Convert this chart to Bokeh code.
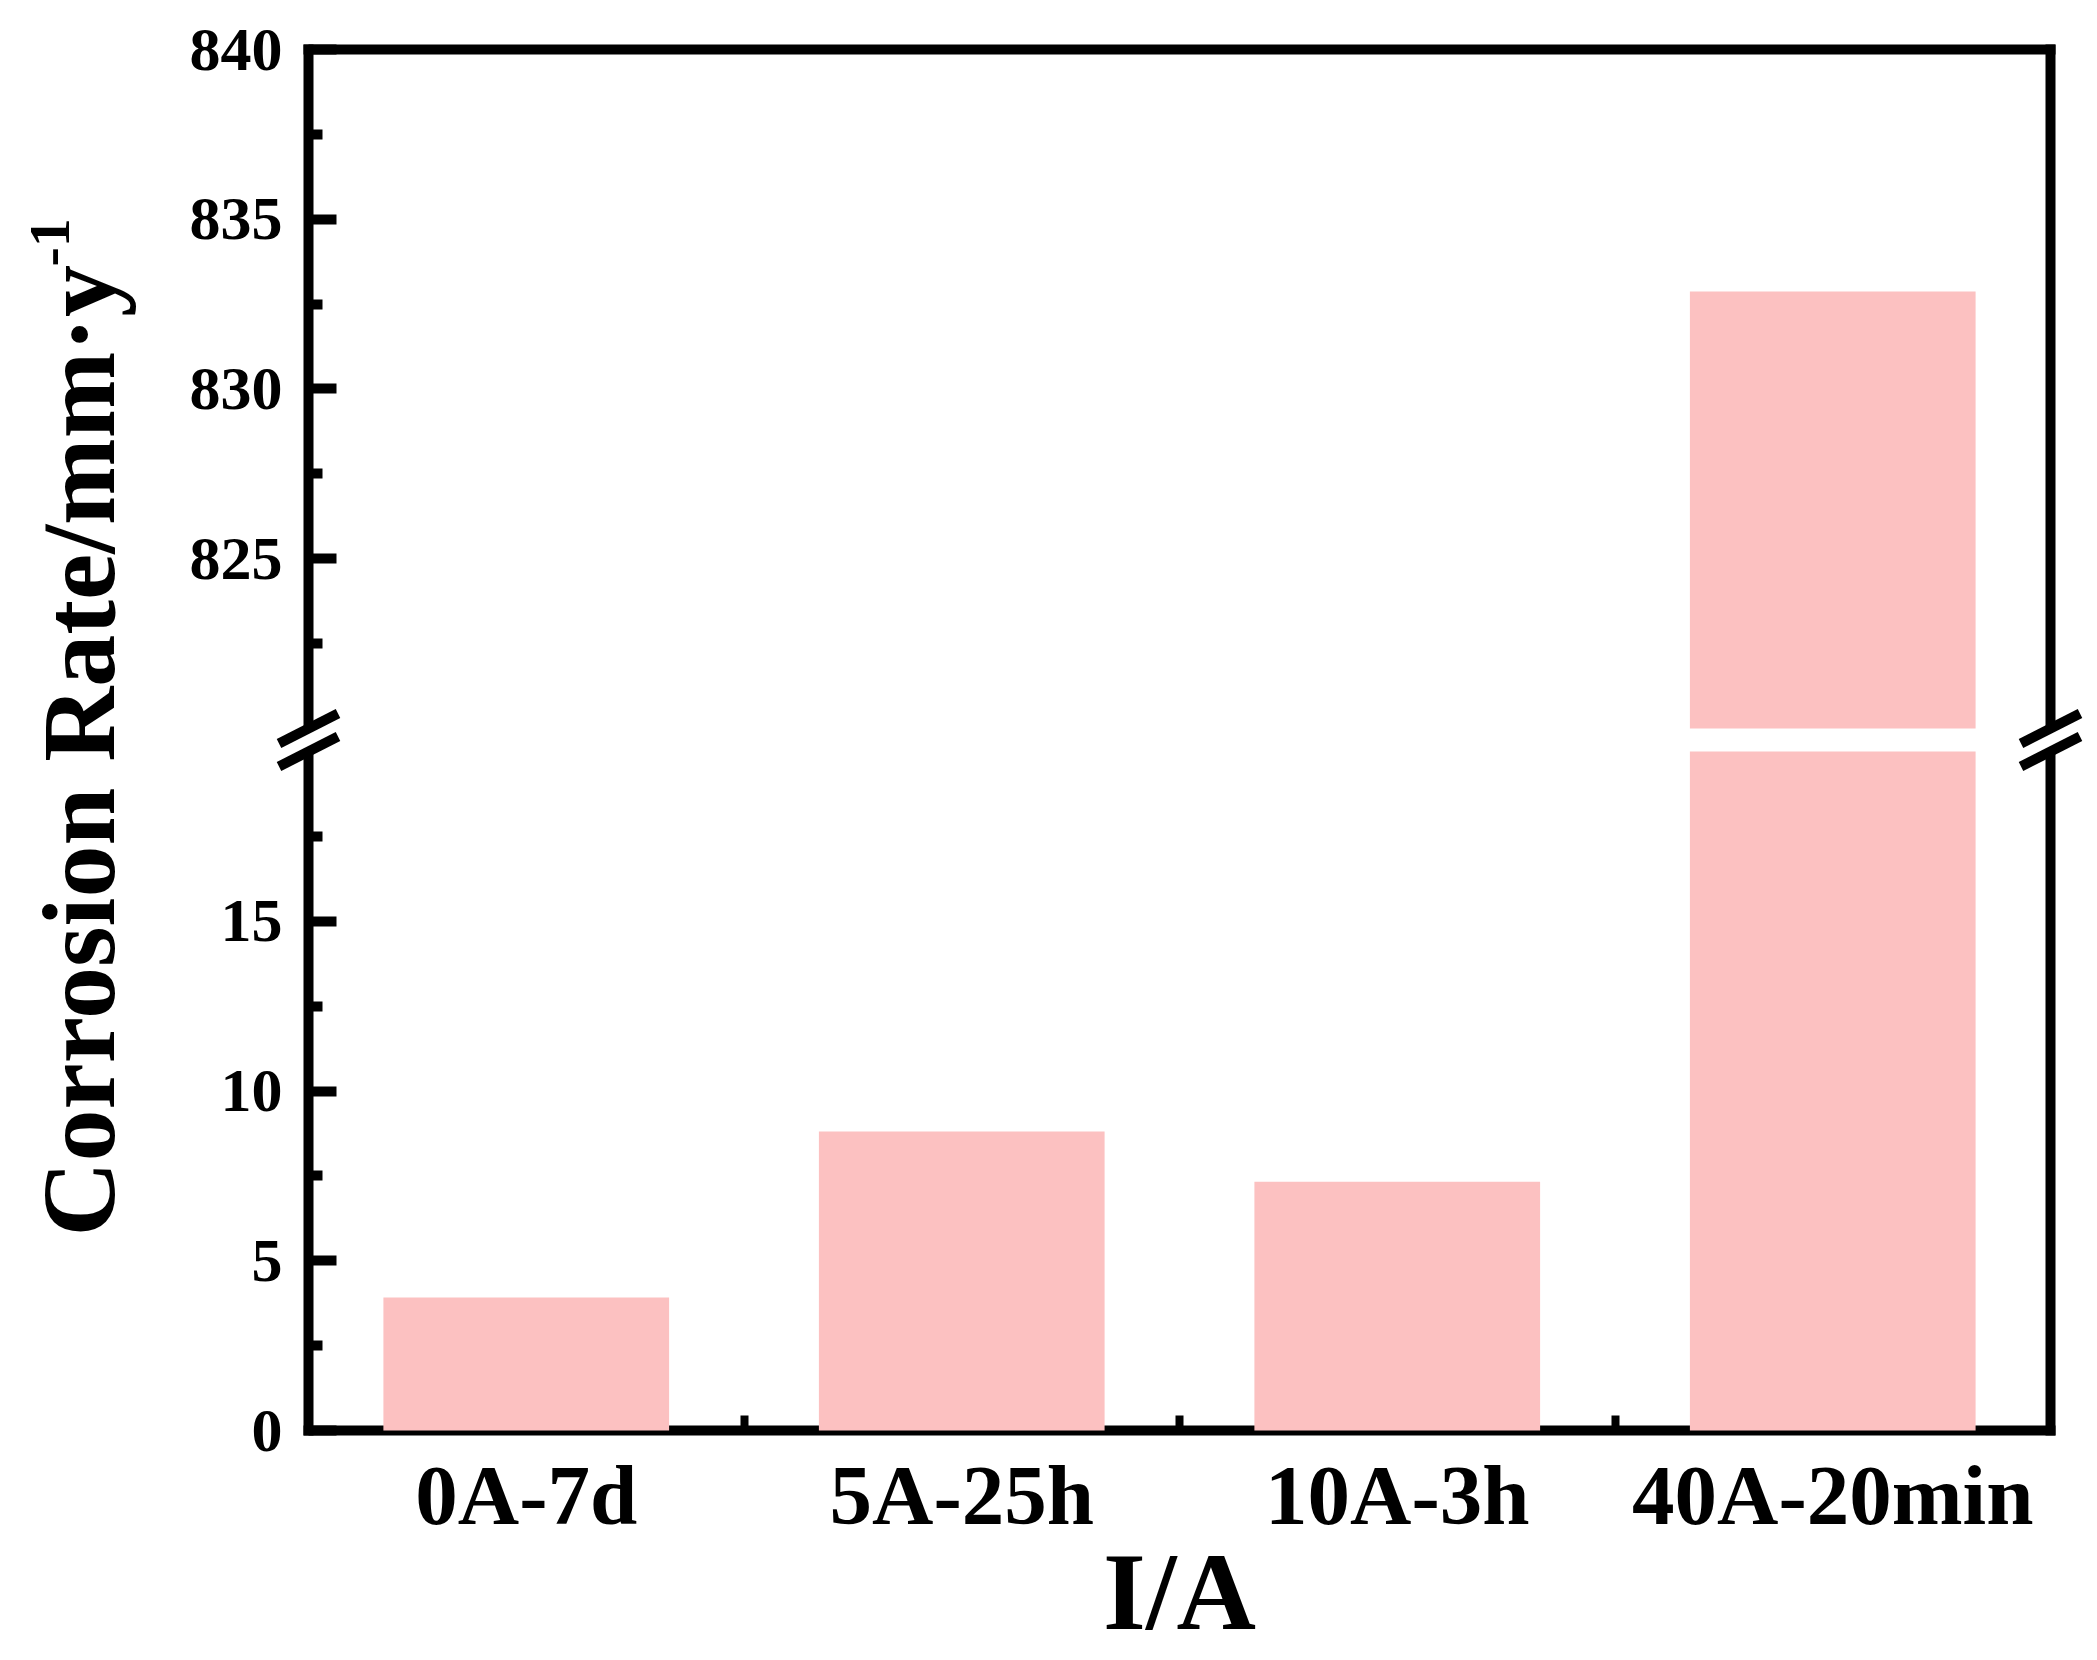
import math
from bokeh.plotting import figure
from bokeh.models import Range1d, LinearAxis, FixedTicker, Label, Arrow, PolyAnnotation
from bokeh.embed import file_html
from bokeh.resources import INLINE

# ---- data ----
categories = ["0A-7d", "5A-25h", "10A-3h", "40A-20min"]
rates = [3.92, 8.81, 7.33, 832.87]
lower_ticks = [0, 5, 10, 15]
lower_minor = [2.5, 7.5, 12.5, 17.5]
upper_ticks = [825, 830, 835, 840]
upper_minor = [822.5, 827.5, 832.5, 837.5]
LOW_MAX = 20.0   # top of lower segment
UP_MIN = 820.0   # bottom of upper segment
UP_MAX = 840.0
GAP = 0.68       # visual gap between the segments (in axis units)

x_title = "I/A"
y_title = "Corrosion Rate/mm\u00b7y"
y_title_sup = "-1"

FONT = "Liberation Serif"
BAR_COLOR = "#FCC1C1"


def ty(v):
    """Map a data value onto the broken y scale."""
    if v <= LOW_MAX:
        return v
    return v - UP_MIN + LOW_MAX + GAP


Y_TOP = ty(UP_MAX)
NCAT = len(categories)

# ---- layout (canvas pixels) ----
W, H = 2088, 1652
BL, BR, BT, BB = 308, 2050, 49, 1430     # the drawn plot box
XPX = (BR - BL) / NCAT
YPX = (BB - BT) / Y_TOP


def X(px):
    return (px - BL) / XPX


def Y(py):
    return (BB - py) / YPX


p = figure(width=W, height=H,
           x_range=Range1d(X(0), X(W)), y_range=Range1d(Y(H), Y(0)),
           output_backend="svg", toolbar_location=None,
           x_axis_type=None, y_axis_type=None, min_border=0)
p.outline_line_color = None
p.background_fill_color = "white"
p.border_fill_color = "white"

# ---- bars ----
xs = [i + 0.5 for i in range(NCAT)]
low_top = [min(v, LOW_MAX) for v in rates]
p.vbar(x=xs, width=0.656, bottom=0, top=low_top, fill_color=BAR_COLOR,
       line_color=None, level="overlay")
up_x = [x for x, v in zip(xs, rates) if v > UP_MIN]
up_top = [ty(v) for v in rates if v > UP_MIN]
up_bot = [ty(UP_MIN) for v in rates if v > UP_MIN]
p.vbar(x=up_x, width=0.656, bottom=up_bot, top=up_top, fill_color=BAR_COLOR,
       line_color=None, level="overlay")

# ---- axes ----
LW = 10
xaxis = LinearAxis(ticker=FixedTicker(ticks=xs, minor_ticks=[1, 2, 3]),
                   fixed_location=0, bounds=(0, NCAT))
xaxis.major_label_overrides = {x: c for x, c in zip(xs, categories)}
xaxis.axis_line_width = LW
xaxis.axis_line_cap = "square"
xaxis.major_tick_line_color = None
xaxis.minor_tick_line_width = 8
xaxis.minor_tick_in = 15
xaxis.minor_tick_out = 0
xaxis.major_label_text_font = FONT
xaxis.major_label_text_font_style = "bold"
xaxis.major_label_text_font_size = "85px"
xaxis.major_label_text_color = "black"
xaxis.major_label_standoff = 11
p.add_layout(xaxis, "below")

yt_major = [ty(v) for v in lower_ticks] + [ty(v) for v in upper_ticks]
yt_minor = [ty(v) for v in lower_minor] + [ty(v) for v in upper_minor]
yaxis = LinearAxis(ticker=FixedTicker(ticks=yt_major, minor_ticks=yt_minor),
                   fixed_location=0, bounds=(0, Y_TOP))
yaxis.major_label_overrides = {ty(v): str(v) for v in lower_ticks + upper_ticks}
yaxis.axis_line_width = LW
yaxis.axis_line_cap = "square"
yaxis.major_tick_line_width = LW
yaxis.major_tick_in = 28
yaxis.major_tick_out = 0
yaxis.minor_tick_line_width = LW
yaxis.minor_tick_in = 14
yaxis.minor_tick_out = 0
yaxis.major_label_text_font = FONT
yaxis.major_label_text_font_style = "bold"
yaxis.major_label_text_font_size = "62px"
yaxis.major_label_text_color = "black"
yaxis.major_label_standoff = 26
p.add_layout(yaxis, "left")

for side, loc, bnd in (("above", Y_TOP, (0, NCAT)), ("right", NCAT, (0, Y_TOP))):
    ax = LinearAxis(ticker=FixedTicker(ticks=[], minor_ticks=[]),
                    fixed_location=loc, bounds=bnd)
    ax.axis_line_width = LW
    ax.axis_line_cap = "square"
    ax.major_tick_line_color = None
    ax.minor_tick_line_color = None
    ax.major_label_text_font_size = "0px"
    p.add_layout(ax, side)

# ---- break marks ----
hx = 29.5 / XPX
hy = 15.0 / YPX
slope = hy / hx
wx = 12.0 / XPX
for cx in (0, NCAT):
    y_lo = ty(LOW_MAX)
    y_hi = ty(UP_MIN)
    p.add_layout(PolyAnnotation(
        xs=[cx - wx, cx + wx, cx + wx, cx - wx],
        ys=[y_lo - wx * slope, y_lo + wx * slope, y_hi + wx * slope, y_hi - wx * slope],
        fill_color="white", fill_alpha=1.0, line_color=None))
    for cy in (y_lo, y_hi):
        p.add_layout(Arrow(end=None, x_start=cx - hx, y_start=cy - hy,
                           x_end=cx + hx, y_end=cy + hy,
                           line_color="black", line_width=LW))

# ---- titles ----
p.add_layout(Label(x=NCAT / 2, y=Y(1591), text=x_title,
                   text_font=FONT, text_font_style="bold", text_font_size="110px",
                   text_align="center", text_baseline="alphabetic", text_color="black"))
p.add_layout(Label(x=X(78), y=Y(1236), text=y_title, angle=math.pi / 2,
                   text_font=FONT, text_font_style="bold", text_font_size="104px",
                   text_align="left", text_baseline="alphabetic", text_color="black"))
p.add_layout(Label(x=X(49), y=Y(266), text=y_title_sup, angle=math.pi / 2,
                   text_font=FONT, text_font_style="bold", text_font_size="58px",
                   text_align="left", text_baseline="alphabetic", text_color="black"))

open("out.html", "w").write(file_html(p, INLINE))
